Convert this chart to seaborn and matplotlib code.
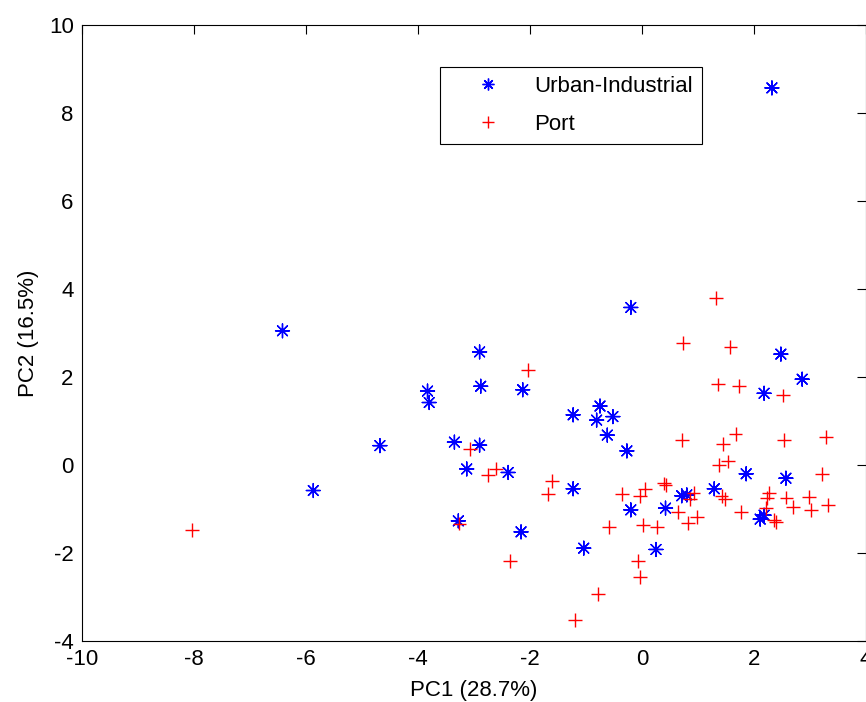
import matplotlib
matplotlib.use("Agg")
import matplotlib.pyplot as plt
import seaborn as sns
import pandas as pd

# PCA scores
urban_pc1 = [-6.42, -4.68, -5.87, -0.20, -2.90, -3.83, -3.80, -2.88, -2.13, -0.75,
             -1.23, -0.81, -0.52, -0.62, -0.27, -3.35, -2.90, -3.13, -2.39, -1.23,
             -0.20, -3.28, -2.16, -1.04, 0.25, 2.48, 2.86, 2.18, 1.86, 2.57,
             0.71, 0.80, 1.29, 0.42, 2.11, 2.18, 2.32]
urban_pc2 = [3.05, 0.44, -0.58, 3.58, 2.57, 1.68, 1.42, 1.79, 1.71, 1.34,
             1.14, 1.02, 1.10, 0.68, 0.32, 0.52, 0.45, -0.09, -0.17, -0.54,
             -1.02, -1.27, -1.52, -1.89, -1.92, 2.52, 1.95, 1.63, -0.20, -0.30,
             -0.70, -0.68, -0.54, -0.98, -1.23, -1.14, 8.57]

port_pc1 = [-8.03, -2.03, -3.07, -2.61, -2.75, -1.61, -1.68, -0.36, 0.05, -0.04,
            0.02, -0.59, -3.26, -2.36, -0.07, -0.04, -1.20, -0.79, 1.32, 0.74,
            1.58, 1.35, 1.74, 2.51, 0.71, 1.67, 1.45, 2.54, 3.29, 1.38,
            1.54, 3.22, 0.39, 0.42, 0.92, 0.86, 1.42, 1.49, 2.26, 2.23,
            2.58, 2.99, 3.32, 2.70, 3.02, 2.21, 1.77, 0.64, 0.99, 0.82,
            0.26, 2.35, 2.39]
port_pc2 = [-1.48, 2.16, 0.36, -0.08, -0.23, -0.37, -0.66, -0.65, -0.55, -0.70,
            -1.36, -1.40, -1.33, -2.18, -2.18, -2.54, -3.52, -2.93, 3.79, 2.77,
            2.69, 1.83, 1.80, 1.58, 0.57, 0.70, 0.48, 0.57, 0.64, -0.01,
            0.08, -0.21, -0.42, -0.45, -0.63, -0.77, -0.70, -0.78, -0.63, -0.76,
            -0.74, -0.73, -0.91, -0.95, -1.02, -0.98, -1.06, -1.06, -1.19, -1.31,
            -1.40, -1.25, -1.30]

groups = ["Urban-Industrial", "Port"]

df = pd.DataFrame({
    "PC1": urban_pc1 + port_pc1,
    "PC2": urban_pc2 + port_pc2,
    "group": [groups[0]] * len(urban_pc1) + [groups[1]] * len(port_pc1),
})

sns.set_style("white")
plt.rcParams["font.family"] = ["Liberation Sans", "DejaVu Sans"]
plt.rcParams["font.size"] = 16
plt.rcParams["axes.unicode_minus"] = False
plt.rcParams["text.color"] = "black"
plt.rcParams["axes.labelcolor"] = "black"

fig = plt.figure(figsize=(8.66, 7.02), dpi=100)
ax = fig.add_axes([0.0947, 0.0869, 0.9053, 0.8775])

sns.scatterplot(data=df, x="PC1", y="PC2", hue="group", style="group",
                hue_order=groups, style_order=groups,
                palette={"Urban-Industrial": "#0000ff", "Port": "#ff0000"},
                markers={"Urban-Industrial": (8, 2, 0), "Port": "+"},
                s=100, linewidth=1.0, ax=ax)

ax.set_xlim(-10, 4)
ax.set_ylim(-4, 10)
ax.set_xticks(range(-10, 5, 2))
ax.set_yticks(range(-4, 11, 2))
ax.tick_params(direction="in", length=6.5, top=True, right=True, pad=6,
               labelsize=16, color="black", labelcolor="black", width=0.8)
for sp in ax.spines.values():
    sp.set_color("black")
    sp.set_linewidth(0.8)

ax.set_xlabel("PC1 (28.7%)", fontsize=16, labelpad=7)
ax.set_ylabel("PC2 (16.5%)", fontsize=16, labelpad=7)

handles, labels = ax.get_legend_handles_labels()
leg = ax.legend(handles, labels, loc="upper left", bbox_to_anchor=(0.4566, 0.932),
                frameon=True, fancybox=False, edgecolor="black", framealpha=1,
                fontsize=16, labelspacing=0.75, handlelength=3.5,
                handletextpad=0.3, borderpad=0.42, borderaxespad=0,
                markerscale=0.85)
leg.get_frame().set_linewidth(0.8)

fig.savefig("out.png", dpi=100)
